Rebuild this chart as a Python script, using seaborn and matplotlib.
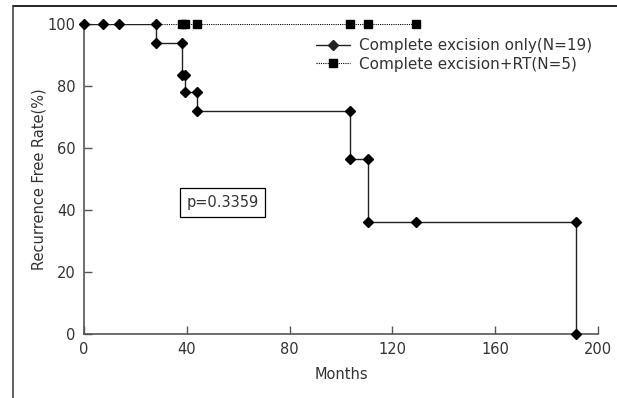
import matplotlib
matplotlib.use("Agg")
import matplotlib.pyplot as plt
from matplotlib.lines import Line2D
import seaborn as sns
import pandas as pd

# --- data ---
# complete excision only (N=19): step curve
steps_only_t = [0, 28, 38, 39.3, 44, 103.6, 110.6, 191.3]
steps_only_s = [100, 93.8, 83.5, 78.1, 72.0, 56.4, 36.0, 0]
# diamond marks
marks_only_t = [0, 7.3, 13.8, 28, 28, 38, 38, 39.3, 39.3, 44, 44, 103.6, 103.6,
                110.6, 110.6, 129.2, 191.3, 191.3]
marks_only_s = [100, 100, 100, 100, 93.8, 93.8, 83.5, 83.5, 78.1, 78.1, 72.0,
                72.0, 56.4, 56.4, 36.0, 36.0, 36.0, 0]

# complete excision + RT (N=5): flat at 100
rt_t = [0, 38, 39.3, 44, 103.6, 110.6, 129.2]
rt_s = [100, 100, 100, 100, 100, 100, 100]
rt_marks_t = [38, 39.3, 44, 103.6, 110.6, 129.2]

x_ticks = [0, 40, 80, 120, 160, 200]
y_ticks = [0, 20, 40, 60, 80, 100]
label_only = "Complete excision only(N=19)"
label_rt = "Complete excision+RT(N=5)"
p_text = "p=0.3359"

sns.set_style("ticks")
plt.rcParams['font.family'] = ['DejaVu Sans']

fig = plt.figure(figsize=(6.17, 3.98), dpi=100)
ax = fig.add_axes([84 / 617, 1 - 334 / 398, (598 - 84) / 617, (334 - 24) / 398])

df_steps = pd.DataFrame({"t": steps_only_t, "s": steps_only_s})
df_marks = pd.DataFrame({"t": marks_only_t, "s": marks_only_s})
df_rt = pd.DataFrame({"t": rt_t, "s": rt_s})
df_rt_m = pd.DataFrame({"t": rt_marks_t, "s": [100] * len(rt_marks_t)})

# RT group: dotted line + squares
sns.lineplot(data=df_rt, x="t", y="s", ax=ax, color="black", lw=0.8,
             linestyle=(0, (1, 1)), estimator=None, sort=False, zorder=2)
ax.plot(df_rt_m["t"], df_rt_m["s"], ls="none", marker="s", ms=5.5,
        color="black", zorder=4, clip_on=False)

# excision only: solid step + diamonds
sns.lineplot(data=df_steps, x="t", y="s", ax=ax, color="#222222", lw=1.0,
             drawstyle="steps-post", estimator=None, sort=False, zorder=3)
ax.plot(df_marks["t"], df_marks["s"], ls="none", marker="D", ms=5,
        color="black", zorder=5, clip_on=False)

ax.set_xlim(0, 200)
ax.set_ylim(0, 100)
ax.set_xticks(x_ticks)
ax.set_yticks(y_ticks)
ax.tick_params(direction="in", length=6, width=1, color="#555555",
               labelcolor="#333333", labelsize=10.5)
ax.tick_params(axis="x", pad=6)
ax.tick_params(axis="y", pad=6)
for sp in ["top", "right"]:
    ax.spines[sp].set_visible(False)
for sp in ["left", "bottom"]:
    ax.spines[sp].set_color("#555555")
    ax.spines[sp].set_linewidth(1.2)

ax.set_xlabel("Months", fontsize=10.5, color="#333333", labelpad=7)
ax.set_ylabel("Recurrence Free Rate(%)", fontsize=10.5, color="#333333", labelpad=1)

handles = [
    Line2D([], [], color="#222222", lw=1.0, marker="D", ms=5),
    Line2D([], [], color="black", lw=0.8, linestyle=(0, (1, 1)), marker="s", ms=5.5),
]
ax.legend(handles, [label_only, label_rt], loc="upper right",
          bbox_to_anchor=(1.0, 0.975), frameon=False, fontsize=11,
          handlelength=2.2, handletextpad=0.6, labelspacing=0.25,
          labelcolor="#333333", borderaxespad=0)

ax.text(53.8, 42.4, p_text, ha="center", va="center", fontsize=10.5,
        color="#333333",
        bbox=dict(boxstyle="square,pad=0.45", fc="white", ec="black", lw=0.9))

# frame lines at top and left of the figure
fig.add_artist(Line2D([13 / 617, 1], [1 - 6 / 398, 1 - 6 / 398],
                      color="black", lw=1.2, transform=fig.transFigure))
fig.add_artist(Line2D([13 / 617, 13 / 617], [0, 1 - 6 / 398],
                      color="#444444", lw=1.2, transform=fig.transFigure))

fig.savefig("out.png", dpi=100)
